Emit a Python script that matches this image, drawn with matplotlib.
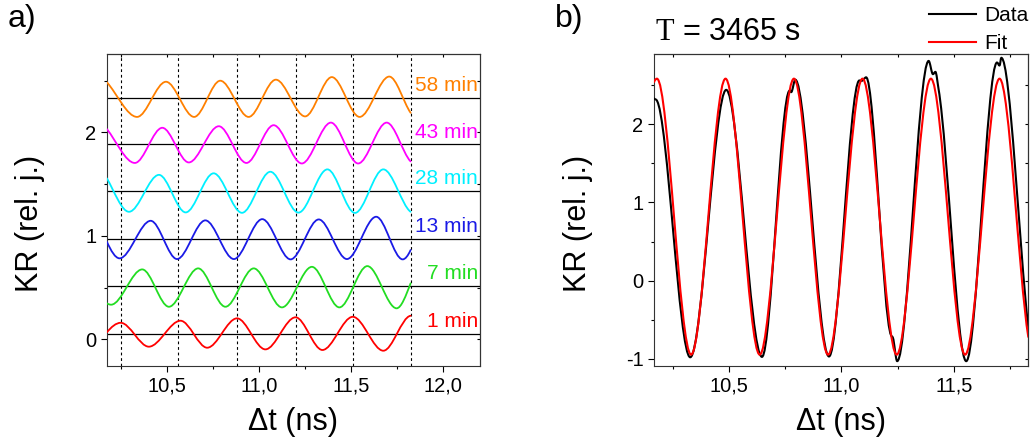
import numpy as np
import matplotlib
matplotlib.use("Agg")
import matplotlib.pyplot as plt
from matplotlib.path import Path
from matplotlib.patches import PathPatch
from matplotlib.lines import Line2D
from matplotlib.ticker import MultipleLocator, FuncFormatter, NullFormatter

plt.rcParams['font.family'] = ['Liberation Sans', 'DejaVu Sans']
plt.rcParams['mathtext.fontset'] = 'custom'
plt.rcParams['mathtext.rm'] = 'Liberation Serif'
plt.rcParams['axes.unicode_minus'] = False

# -----------------------------
# a) KR traces after different waiting times (turning points + trace ends)
# -----------------------------
labels_a = ["1 min", "7 min", "13 min", "28 min", "43 min", "58 min"]
colors_a = ["#FF0000", "#22DD22", "#1A1AE6", "#00F0FF", "#FF00FF", "#FF8000"]
offsets_a = [0.055, 0.515, 0.966, 1.433, 1.884, 2.334]

t_1min = [10.172, 10.247, 10.400, 10.572, 10.717, 10.879, 11.033, 11.197, 11.343, 11.508, 11.674, 11.822]
kr_1min = [0.068, 0.160, -0.071, 0.180, -0.081, 0.203, -0.097, 0.213, -0.103, 0.218, -0.110, 0.228]

t_7min = [10.172, 10.195, 10.364, 10.509, 10.668, 10.816, 10.970, 11.123, 11.286, 11.435, 11.587, 11.746, 11.822]
kr_7min = [0.348, 0.335, 0.676, 0.315, 0.686, 0.315, 0.686, 0.309, 0.701, 0.309, 0.708, 0.300, 0.541]

t_13min = [10.172, 10.241, 10.410, 10.553, 10.707, 10.862, 11.016, 11.170, 11.323, 11.476, 11.635, 11.779, 11.822]
kr_13min = [0.943, 0.783, 1.146, 0.776, 1.150, 0.776, 1.162, 0.773, 1.159, 0.776, 1.185, 0.773, 0.863]

t_28min = [10.172, 10.292, 10.455, 10.600, 10.752, 10.906, 11.060, 11.213, 11.370, 11.520, 11.674, 11.822]
kr_28min = [1.556, 1.233, 1.590, 1.227, 1.605, 1.223, 1.620, 1.225, 1.643, 1.222, 1.643, 1.233]

t_43min = [10.172, 10.324, 10.473, 10.617, 10.780, 10.930, 11.078, 11.231, 11.389, 11.537, 11.692, 11.822]
kr_43min = [2.032, 1.705, 2.045, 1.710, 2.060, 1.705, 2.070, 1.700, 2.095, 1.700, 2.095, 1.720]

t_58min = [10.172, 10.336, 10.493, 10.646, 10.788, 10.942, 11.090, 11.249, 11.394, 11.545, 11.706, 11.822]
kr_58min = [2.485, 2.150, 2.490, 2.150, 2.500, 2.150, 2.510, 2.155, 2.535, 2.150, 2.540, 2.190]

traces_t = [t_1min, t_7min, t_13min, t_28min, t_43min, t_58min]
traces_kr = [kr_1min, kr_7min, kr_13min, kr_28min, kr_43min, kr_58min]

# positions of the dotted guide lines
guides_a = [10.248, 10.560, 10.880, 11.199, 11.508, 11.823]

# -----------------------------
# b) single trace at T = 3465 s with fit
# -----------------------------
data_t = [10.167, 10.178, 10.328, 10.488, 10.647, 10.770, 10.777, 10.795, 10.945,
          11.080, 11.090, 11.110, 11.221, 11.229, 11.248, 11.388, 11.407, 11.418,
          11.432, 11.555, 11.692, 11.703, 11.711, 11.831]
data_kr = [2.33, 2.31, -0.98, 2.44, -0.975, 2.43, 2.41, 2.57, -0.97,
           2.56, 2.555, 2.60, -0.70, -0.73, -1.03, 2.81, 2.64, 2.67,
           2.45, -1.03, 2.79, 2.75, 2.85, -0.60]

fit_t = [10.167, 10.180, 10.332, 10.485, 10.637, 10.789, 10.941, 11.094, 11.246,
         11.398, 11.550, 11.703, 11.831]
fit_kr = [2.54, 2.583, -0.947, 2.583, -0.947, 2.583, -0.947, 2.583, -0.947,
          2.583, -0.947, 2.583, -0.72]


def edge_slope(t_end, y_end, t_in, y_in, y):
    # slope at a trace end, taking the stretch to the next turning point as half a cosine
    other = y.min() if y_end < y_in else y.max()
    f = np.clip(abs(y_end - y_in) / abs(other - y_in), 1e-3, 0.999)
    phi = np.arccos(1 - 2 * f)
    return (y_end - y_in) / (t_end - t_in) * phi / np.tan(phi / 2)


def smooth_trace(ax, t, y, **kw):
    # smooth curve through the points, flat at every turning point
    t = np.asarray(t, float)
    y = np.asarray(y, float)
    m = np.gradient(y, t)
    turn = (y[1:-1] - y[:-2]) * (y[2:] - y[1:-1]) <= 0
    m[1:-1][turn] = 0.0
    m[0] = edge_slope(t[0], y[0], t[1], y[1], y)
    m[-1] = edge_slope(t[-1], y[-1], t[-2], y[-2], y)
    verts = [(t[0], y[0])]
    for i in range(len(t) - 1):
        h = t[i + 1] - t[i]
        verts += [(t[i] + h / 3, y[i] + m[i] * h / 3),
                  (t[i + 1] - h / 3, y[i + 1] - m[i + 1] * h / 3),
                  (t[i + 1], y[i + 1])]
    codes = [Path.MOVETO] + [Path.CURVE4] * (len(verts) - 1)
    ax.add_patch(PathPatch(Path(verts, codes), fill=False, capstyle='round',
                           joinstyle='round', **kw))


def style_axes(ax):
    comma = FuncFormatter(lambda v, _: f"{v:.1f}".replace(".", ","))
    ax.xaxis.set_major_locator(MultipleLocator(0.5))
    ax.xaxis.set_minor_locator(MultipleLocator(0.25))
    ax.xaxis.set_major_formatter(comma)
    ax.yaxis.set_major_locator(MultipleLocator(1))
    ax.yaxis.set_minor_locator(MultipleLocator(0.5))
    ax.yaxis.set_major_formatter(FuncFormatter(lambda v, _: f"{v:g}"))
    ax.tick_params(which='major', direction='out', length=4, width=0.8,
                   labelsize=14.5, pad=3.5)
    ax.tick_params(which='minor', direction='out', length=2.5, width=0.8)
    for sp in ax.spines.values():
        sp.set_linewidth(0.8)
        sp.set_color('#333333')
    # opposite sides get short inward ticks
    top = ax.secondary_xaxis('top')
    top.xaxis.set_major_locator(MultipleLocator(0.5))
    top.xaxis.set_minor_locator(MultipleLocator(0.25))
    top.xaxis.set_major_formatter(NullFormatter())
    top.tick_params(which='both', direction='in', length=2.5, width=0.8)
    right = ax.secondary_yaxis('right')
    right.yaxis.set_major_locator(MultipleLocator(1))
    right.yaxis.set_minor_locator(MultipleLocator(0.5))
    right.yaxis.set_major_formatter(NullFormatter())
    right.tick_params(which='both', direction='in', length=2.5, width=0.8)
    ax.set_xlabel("Δt (ns)", fontsize=22, va='center')
    ax.set_ylabel("KR (rel. j.)", fontsize=22, va='center')


fig = plt.figure(figsize=(10.34, 4.41), dpi=100)

# -----------------------------
# Panel a
# -----------------------------
ax_a = fig.add_axes([0.1032, 0.1707, 0.3610, 0.7061])
for x in guides_a:
    ax_a.axvline(x, color='k', lw=0.8, ls=(0, (2.5, 2.5)), zorder=1)
for t, kr, off, col, lab in zip(traces_t, traces_kr, offsets_a, colors_a, labels_a):
    ax_a.axhline(off, color='k', lw=0.9, zorder=2)
    smooth_trace(ax_a, t, kr, edgecolor=col, lw=1.3, zorder=3)
    ax_a.text(12.189, off + 0.12, lab, color=col, fontsize=15,
              ha='right', va='center')
ax_a.set_xlim(10.171, 12.199)
ax_a.set_ylim(-0.255, 2.755)
style_axes(ax_a)
ax_a.xaxis.set_label_coords(0.5, -0.18)
ax_a.yaxis.set_label_coords(-0.205, 0.456)

# -----------------------------
# Panel b
# -----------------------------
ax_b = fig.add_axes([0.6325, 0.1707, 0.3620, 0.7061])
smooth_trace(ax_b, data_t, data_kr, edgecolor='black', lw=1.5, zorder=3)
smooth_trace(ax_b, fit_t, fit_kr, edgecolor='#FF0000', lw=1.5, zorder=4)
ax_b.set_xlim(10.167, 11.831)
ax_b.set_ylim(-1.088, 2.894)
style_axes(ax_b)
ax_b.xaxis.set_label_coords(0.5, -0.18)
ax_b.yaxis.set_label_coords(-0.202, 0.456)

ax_b.text(0.003, 1.046, r"$\mathrm{T}$ = 3465 s", transform=ax_b.transAxes,
          fontsize=22, ha='left', va='baseline')

handles = [Line2D([], [], color='black', lw=1.5), Line2D([], [], color='#FF0000', lw=1.5)]
ax_b.legend(handles, ["Data", "Fit"], loc='upper right',
            bbox_to_anchor=(1028 / 1034, 0.986), bbox_transform=fig.transFigure,
            frameon=False, fontsize=15, handlelength=2.3, handletextpad=0.35,
            labelspacing=0.42, borderpad=0, borderaxespad=0)

fig.text(8 / 1034, 1 - 4 / 441, "a)", fontsize=23, ha='left', va='top')
fig.text(555 / 1034, 1 - 4 / 441, "b)", fontsize=23, ha='left', va='top')

fig.savefig("out.png", dpi=100)
